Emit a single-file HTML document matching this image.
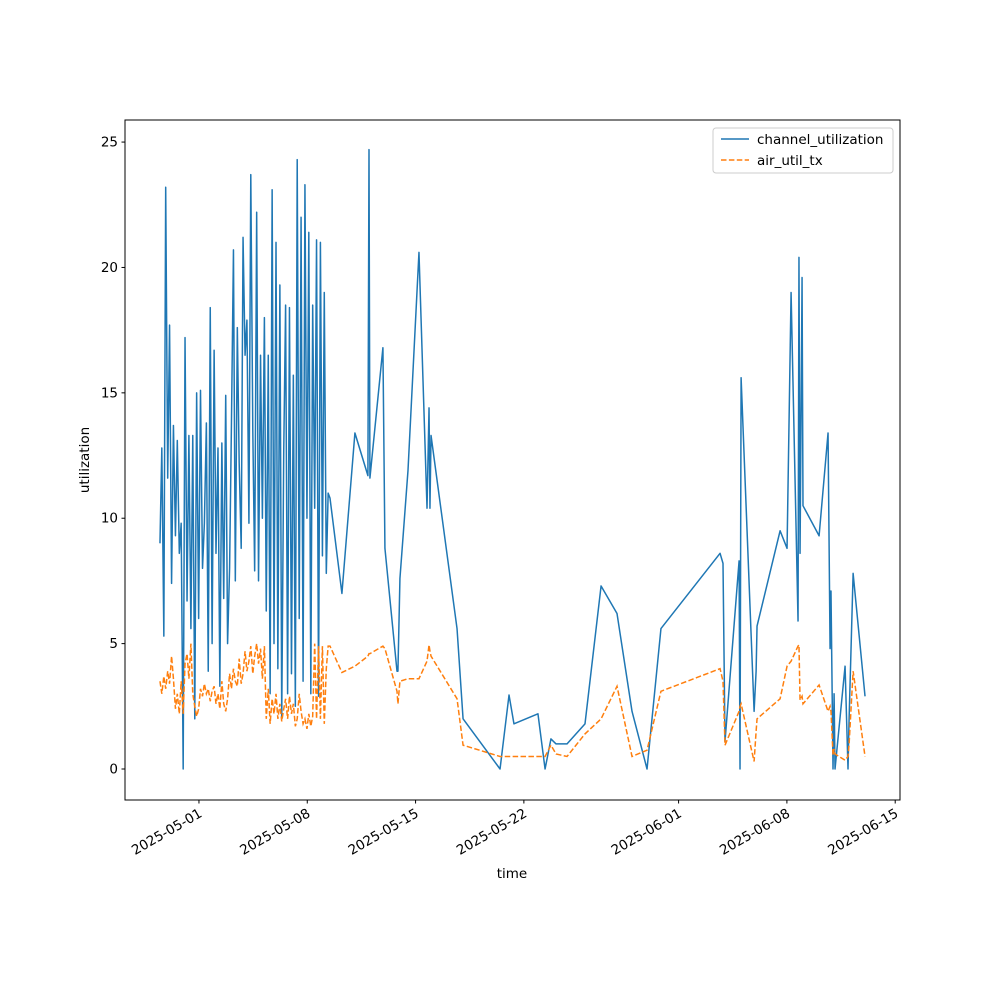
<!DOCTYPE html>
<html><head><meta charset="utf-8"><style>
body{margin:0;background:#fff;}
svg{display:block;font-family:"DejaVu Sans","Liberation Sans",sans-serif;}
</style></head><body>
<svg id="chart" width="1000" height="1000" viewBox="0 0 1000 1000">
<rect width="1000" height="1000" fill="#fff"/>
<g id="plot"></g>
<rect x="125" y="120" width="775" height="680" fill="none" stroke="#000" stroke-width="1"/>
<g id="axes"></g>
<text x="0" y="0" transform="translate(89,460) rotate(-90)" text-anchor="middle" font-size="13.5">utilization</text>
<text x="512" y="878" text-anchor="middle" font-size="13.5">time</text>
<g>
<rect x="713" y="128" width="180" height="45" rx="3" fill="#fff" fill-opacity="0.8" stroke="#ccc"/>
<line x1="721" y1="139" x2="749" y2="139" stroke="#1f77b4" stroke-width="1.5"/>
<text x="757" y="144" font-size="13.5">channel_utilization</text>
<line x1="721" y1="160" x2="749" y2="160" stroke="#ff7f0e" stroke-width="1.5" stroke-dasharray="5.5,2.4"/>
<text x="757" y="165" font-size="13.5">air_util_tx</text>
</g>
</svg>
<script>
// days since 2025-05-01
const times = [-2.52,-2.40,-2.27,-2.15,-2.02,-1.90,-1.77,-1.65,-1.52,-1.40,-1.27,-1.15,-1.02,-0.90,-0.77,-0.65,-0.52,-0.40,-0.27,-0.15,-0.02,0.10,0.23,0.35,0.48,0.60,0.73,0.85,0.98,1.10,1.23,1.35,1.48,1.60,1.73,1.85,1.98,2.10,2.23,2.35,2.48,2.60,2.73,2.85,2.98,3.10,3.23,3.35,3.48,3.60,3.73,3.85,3.98,4.10,4.23,4.35,4.48,4.60,4.73,4.85,4.98,5.10,5.23,5.35,5.48,5.60,5.73,5.85,5.98,6.10,6.23,6.35,6.48,6.60,6.73,6.85,6.98,7.10,7.23,7.35,7.48,7.60,7.73,7.85,7.98,8.10,8.23,8.35,
8.47,9.24,10.08,10.92,10.99,11.05,11.89,12.02,12.80,12.86,12.99,13.51,14.22,14.74,14.87,14.93,15.00,16.68,17.07,19.46,20.04,20.36,21.91,22.37,22.75,23.08,23.79,24.95,25.99,27.02,27.99,28.96,29.86,33.68,33.87,34.00,34.91,34.97,35.04,35.88,36.01,36.07,37.56,38.01,38.27,38.72,38.78,38.85,38.98,39.04,40.08,40.66,40.79,40.85,40.98,41.05,41.11,41.76,41.95,42.02,42.28,43.05];
const channelUtil = [9.0,12.8,5.3,23.2,11.6,17.7,7.4,13.7,9.3,13.1,8.6,9.8,0,17.2,6.7,13.3,5.6,13.3,2.0,15.0,6.0,15.1,8.0,9.8,13.8,3.9,18.4,5.0,16.7,8.6,12.8,3.3,13.0,6.8,14.9,5.0,8.0,13.8,20.7,7.5,17.6,12.2,8.8,21.2,16.5,17.9,9.8,23.7,13.5,7.9,22.2,7.5,16.5,10.0,18.0,6.3,16.5,3.0,23.1,5.0,21.0,4.0,19.3,2.0,12.7,18.5,3.0,18.4,3.8,15.7,2.5,24.3,6.0,22.0,3.5,23.3,10.0,21.4,3.0,18.5,10.4,21.1,2.9,21.0,8.5,19.0,7.8,11.0,
10.8,7.0,13.4,11.7,24.7,11.6,16.8,8.8,3.9,3.9,7.6,11.9,20.6,10.4,14.4,10.4,13.3,5.6,2.0,0,2.95,1.8,2.2,0,1.2,1.0,1.0,1.8,7.3,6.2,2.3,0,5.6,8.6,8.2,1.1,8.3,0,15.6,2.3,3.9,5.7,9.5,8.8,19.0,5.9,20.4,8.6,19.6,10.5,9.3,13.4,4.8,7.1,0,3.0,0,4.1,0,2.0,7.8,2.9];
const airUtilTx = [3.5,3.0,3.7,3.2,3.9,3.4,4.5,3.6,2.4,3.0,2.2,3.5,2.2,4.2,4.6,3.6,5.0,3.0,2.5,2.1,2.4,3.2,2.9,3.4,3.0,3.2,2.7,3.1,3.3,2.6,3.0,2.4,3.5,2.6,2.3,2.8,3.8,3.2,4.0,3.5,3.3,4.4,3.4,3.8,4.7,3.9,4.3,4.9,3.8,4.5,5.0,4.2,4.8,3.6,4.9,2.0,3.2,1.8,2.8,2.2,3.0,2.0,2.6,1.9,2.4,2.8,2.0,2.9,2.2,2.6,1.7,2.0,3.0,2.3,1.8,2.0,1.6,2.2,1.7,2.1,5.0,2.0,4.9,2.0,4.9,1.8,4.0,4.9,
4.9,3.85,4.1,4.5,4.6,4.6,4.9,4.8,3.1,2.6,3.5,3.6,3.6,4.3,4.95,4.7,4.5,2.8,0.95,0.5,0.5,0.5,0.5,0.5,0.95,0.6,0.5,1.4,2.0,3.3,0.5,0.75,3.1,4.0,3.5,0.95,2.3,2.5,2.6,0.3,1.5,2.0,2.8,4.1,4.3,4.9,4.95,2.75,2.9,2.6,3.35,2.3,2.5,2.3,0.55,0.8,0.6,0.35,0.5,1.0,3.9,0.5];
const yTicks = [0,5,10,15,20,25];
const xTickDays = [0,7,14,21,31,38,45];
const xTickLabels = ["2025-05-01","2025-05-08","2025-05-15","2025-05-22","2025-06-01","2025-06-08","2025-06-15"];

const NS="http://www.w3.org/2000/svg";
const xMin=-4.78,xMax=45.31,yMin=-1.236,yMax=25.88;
const L=125,R=900,T=120,B=800;
const xs=d=>L+(d-xMin)/(xMax-xMin)*(R-L);
const ys=v=>B-(v-yMin)/(yMax-yMin)*(B-T);
const plot=document.getElementById('plot'), axes=document.getElementById('axes');
function mk(tag,attrs,parent){const e=document.createElementNS(NS,tag);for(const k in attrs)e.setAttribute(k,attrs[k]);parent.appendChild(e);return e;}

const p1=mk('polyline',{points:times.map((t,i)=>xs(t).toFixed(2)+','+ys(channelUtil[i]).toFixed(2)).join(' '),fill:'none',stroke:'#1f77b4','stroke-width':1.5,'stroke-linejoin':'round'},plot);


const p2=mk('polyline',{points:times.map((t,i)=>xs(t).toFixed(2)+','+ys(airUtilTx[i]).toFixed(2)).join(' '),fill:'none',stroke:'#ff7f0e','stroke-width':1.5,'stroke-dasharray':'5.5,2.4'},plot);



yTicks.forEach(v=>{
  const y=ys(v);
  const tk=mk('line',{x1:L-3.5,x2:L,y1:y,y2:y,stroke:'#000'},axes);
  
  
  const tx=mk('text',{x:L-7,y:y+4.5,'text-anchor':'end','font-size':13.5},axes);
  tx.textContent=v;
  
  
});
xTickDays.forEach((d,i)=>{
  const x=xs(d);
  const tk=mk('line',{x1:x,x2:x,y1:B,y2:B+3.5,stroke:'#000'},axes);
  
  
  const tx=mk('text',{x:0,y:0,'text-anchor':'end','font-size':13.5,transform:`translate(${x+4},${B+16}) rotate(-30)`},axes);
  tx.textContent=xTickLabels[i];
  
  
});
</script>
</body></html>
